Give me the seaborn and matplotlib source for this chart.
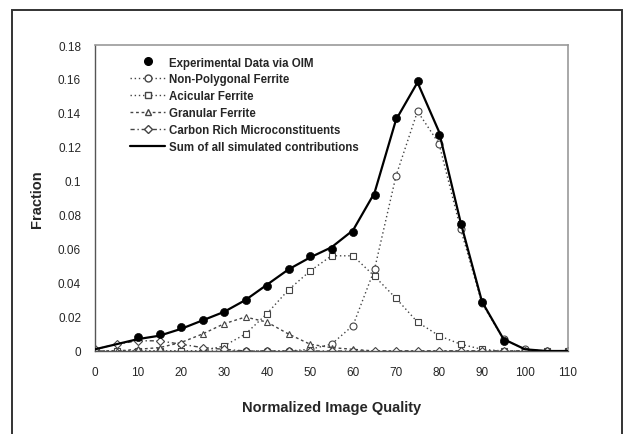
import numpy as np
import pandas as pd
import matplotlib
matplotlib.use("Agg")
import matplotlib.pyplot as plt
import seaborn as sns
from matplotlib.patches import Rectangle
from matplotlib.lines import Line2D

x_iq = [0, 5, 10, 15, 20, 25, 30, 35, 40, 45, 50, 55, 60, 65, 70, 75, 80, 85, 90, 95, 100, 105, 110]

experimental = [0.001, 0.004, 0.008, 0.010, 0.014, 0.018, 0.023, 0.030, 0.038, 0.048, 0.056, 0.060,
                0.070, 0.092, 0.137, 0.159, 0.127, 0.075, 0.029, 0.006, 0.001, 0.0, 0.0]
non_polygonal = [0, 0, 0, 0, 0, 0, 0, 0, 0, 0, 0.001, 0.004, 0.015, 0.048, 0.103, 0.141, 0.122,
                 0.072, 0.028, 0.007, 0.001, 0, 0]
acicular = [0, 0, 0, 0, 0, 0, 0.003, 0.010, 0.022, 0.036, 0.047, 0.056, 0.056, 0.044, 0.031, 0.017,
            0.009, 0.004, 0.001, 0, 0, 0, 0]
granular = [0, 0, 0.001, 0.002, 0.005, 0.010, 0.016, 0.020, 0.017, 0.010, 0.004, 0.002, 0.001, 0,
            0, 0, 0, 0, 0, 0, 0, 0, 0]
carbon_rich = [0.001, 0.004, 0.006, 0.006, 0.004, 0.002, 0.001, 0, 0, 0, 0, 0, 0, 0, 0, 0, 0, 0,
               0, 0, 0, 0, 0]
sum_contrib = [0.001, 0.004, 0.007, 0.009, 0.013, 0.018, 0.023, 0.030, 0.039, 0.048, 0.055, 0.061,
               0.071, 0.093, 0.136, 0.158, 0.129, 0.076, 0.029, 0.007, 0.001, 0.0, 0.0]

labels = ["Experimental Data via OIM", "Non-Polygonal Ferrite", "Acicular Ferrite",
          "Granular Ferrite", "Carbon Rich Microconstituents", "Sum of all simulated contributions"]
x_ticks = list(range(0, 111, 10))
y_ticks = [0, 0.02, 0.04, 0.06, 0.08, 0.1, 0.12, 0.14, 0.16, 0.18]
y_ticklabels = ["0", "0.02", "0.04", "0.06", "0.08", "0.1", "0.12", "0.14", "0.16", "0.18"]

sns.set_style("white")
plt.rcParams['font.family'] = ['Liberation Sans', 'DejaVu Sans']

fig = plt.figure(figsize=(6.35, 4.35), dpi=100)
ax = fig.add_axes([95/635, 1-352/435, (568-95)/635, (352-46)/435])

df = pd.DataFrame({"x": x_iq, "exp": experimental, "np": non_polygonal, "ac": acicular,
                   "gr": granular, "cr": carbon_rich, "sum": sum_contrib})

comp_color = "#444444"
sns.lineplot(data=df, x="x", y="sum", ax=ax, color="black", lw=1.6, zorder=3)
sns.lineplot(data=df, x="x", y="np", ax=ax, color=comp_color, lw=1.0, ls=(0, (1, 2)),
             marker="o", markersize=5, markerfacecolor="white", markeredgecolor=comp_color,
             markeredgewidth=0.8, zorder=2)
sns.lineplot(data=df, x="x", y="ac", ax=ax, color=comp_color, lw=1.0, ls=(0, (1, 2)),
             marker="s", markersize=5, markerfacecolor="white", markeredgecolor=comp_color,
             markeredgewidth=0.8, zorder=2)
sns.lineplot(data=df, x="x", y="gr", ax=ax, color=comp_color, lw=1.0, ls=(0, (2, 2)),
             marker="^", markersize=5, markerfacecolor="white", markeredgecolor=comp_color,
             markeredgewidth=0.8, zorder=2)
sns.lineplot(data=df, x="x", y="cr", ax=ax, color=comp_color, lw=1.0, ls=(0, (3, 2, 1, 2)),
             marker="D", markersize=4.5, markerfacecolor="white", markeredgecolor=comp_color,
             markeredgewidth=0.8, zorder=2)
sns.scatterplot(data=df[df["exp"] > 0.005], x="x", y="exp", ax=ax, color="black", s=34,
                marker="o", edgecolor="black", zorder=4)

ax.set_xlim(0, 110)
ax.set_ylim(0, 0.18)
ax.set_xticks(x_ticks)
ax.set_xticklabels([str(t) for t in x_ticks], fontsize=8.5)
ax.set_yticks(y_ticks)
ax.set_yticklabels(y_ticklabels, fontsize=8.5)
ax.tick_params(axis="both", direction="out", length=4, width=0.8, color="#555555", pad=6)
ax.tick_params(axis="x", pad=7)
ax.set_xlabel("Normalized Image Quality", fontsize=10.5, fontweight="bold", labelpad=16)
ax.set_ylabel("Fraction", fontsize=10.5, fontweight="bold", labelpad=10)

for s in ["top", "right"]:
    ax.spines[s].set_color("#999999")
    ax.spines[s].set_linewidth(1.2)
for s in ["left", "bottom"]:
    ax.spines[s].set_color("#555555")
    ax.spines[s].set_linewidth(1.0)

handles = [
    Line2D([], [], ls="none", marker="o", markersize=5.5, color="black"),
    Line2D([], [], ls=(0, (1, 2)), color=comp_color, lw=1, marker="o", markersize=5,
           markerfacecolor="white", markeredgecolor=comp_color),
    Line2D([], [], ls=(0, (1, 2)), color=comp_color, lw=1, marker="s", markersize=5,
           markerfacecolor="white", markeredgecolor=comp_color),
    Line2D([], [], ls=(0, (2, 2)), color=comp_color, lw=1, marker="^", markersize=5,
           markerfacecolor="white", markeredgecolor=comp_color),
    Line2D([], [], ls=(0, (3, 2, 1, 2)), color=comp_color, lw=1, marker="D", markersize=4.5,
           markerfacecolor="white", markeredgecolor=comp_color),
    Line2D([], [], color="black", lw=1.6),
]
ax.legend(handles, labels, loc="upper left", bbox_to_anchor=(0.06, 0.985), frameon=False,
          prop={"size": 8.3, "weight": "bold"}, handlelength=3.0, handletextpad=0.35,
          labelspacing=0.42, borderaxespad=0.2)

fig.patches.append(Rectangle((12/635, -0.02), (622-12)/635, 1-11/435+0.02,
                             transform=fig.transFigure, fill=False, edgecolor="#333333",
                             lw=1.4, zorder=10))

fig.savefig("out.png", dpi=100)
